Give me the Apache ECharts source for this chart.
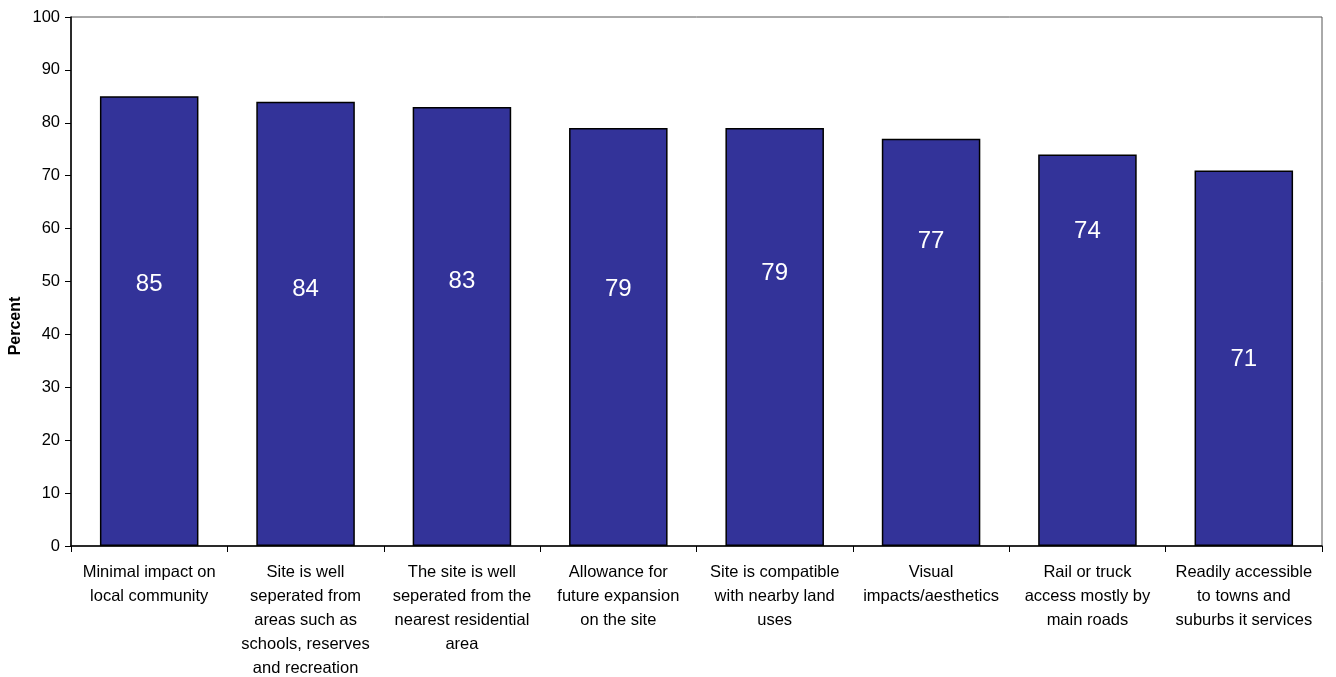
<!DOCTYPE html>
<html>
<head>
<meta charset="utf-8">
<script src="https://cdn.jsdelivr.net/npm/echarts@6/dist/echarts.min.js"></script>
<style>html,body{margin:0;padding:0;background:#fff}#c{width:1336px;height:677px}</style>
</head>
<body>
<div id="c"></div>
<script>
const categories = [
  "Minimal impact on\nlocal community",
  "Site is well\nseperated from\nareas such as\nschools, reserves\nand recreation",
  "The site is well\nseperated from the\nnearest residential\narea",
  "Allowance for\nfuture expansion\non the site",
  "Site is compatible\nwith nearby land\nuses",
  "Visual\nimpacts/aesthetics",
  "Rail or truck\naccess mostly by\nmain roads",
  "Readily accessible\nto towns and\nsuburbs it services"
];
const values = [85, 84, 83, 79, 79, 77, 74, 71];
// heights (in axis units) at which each value label sits inside its bar
const labelLevels = [49.4, 48.5, 50.0, 48.5, 51.5, 57.5, 59.4, 35.2];
const yTicks = [0, 10, 20, 30, 40, 50, 60, 70, 80, 90, 100];

const font = "Liberation Sans, Arial, sans-serif";
const chart = echarts.init(document.getElementById('c'), null, {renderer: 'canvas'});
chart.setOption({
  animation: false,
  backgroundColor: '#fff',
  textStyle: {fontFamily: font},
  grid: {left: 71, right: 14, top: 17, bottom: 131, show: true, borderColor: '#555', borderWidth: 1,
         containLabel: false, outerBoundsMode: 'none'},
  xAxis: {
    type: 'category',
    data: categories,
    axisLine: {lineStyle: {color: '#000', width: 1.5}},
    axisTick: {show: true, length: 6, lineStyle: {color: '#000'}},
    axisLabel: {color: '#000', fontSize: 16.5, lineHeight: 24, margin: 14, interval: 0, fontFamily: font}
  },
  yAxis: {
    type: 'value',
    min: yTicks[0], max: yTicks[yTicks.length - 1], interval: 10,
    splitLine: {show: false},
    axisLine: {show: true, lineStyle: {color: '#000', width: 1.5}},
    axisTick: {show: true, length: 6, lineStyle: {color: '#000'}},
    axisLabel: {color: '#000', fontSize: 16.5, margin: 11, fontFamily: font}
  },
  graphic: [{
    type: 'text',
    x: 16, y: 326,
    rotation: Math.PI / 2,
    style: {text: 'Percent', font: 'bold 16px ' + font, fill: '#000', align: 'center', verticalAlign: 'middle'}
  }],
  series: [{
    type: 'bar',
    data: values,
    barCategoryGap: '37%',
    itemStyle: {color: '#333399', borderColor: '#000', borderWidth: 1.5},
    silent: true
  }, {
    type: 'scatter',
    data: labelLevels,
    symbolSize: 0,
    silent: true,
    z: 5,
    itemStyle: {opacity: 1},
    label: {
      show: true, position: 'inside', color: '#fff', opacity: 1, textBorderWidth: 0, fontSize: 24, fontFamily: font,
      formatter: p => String(values[p.dataIndex])
    }
  }]
});
</script>
</body>
</html>
